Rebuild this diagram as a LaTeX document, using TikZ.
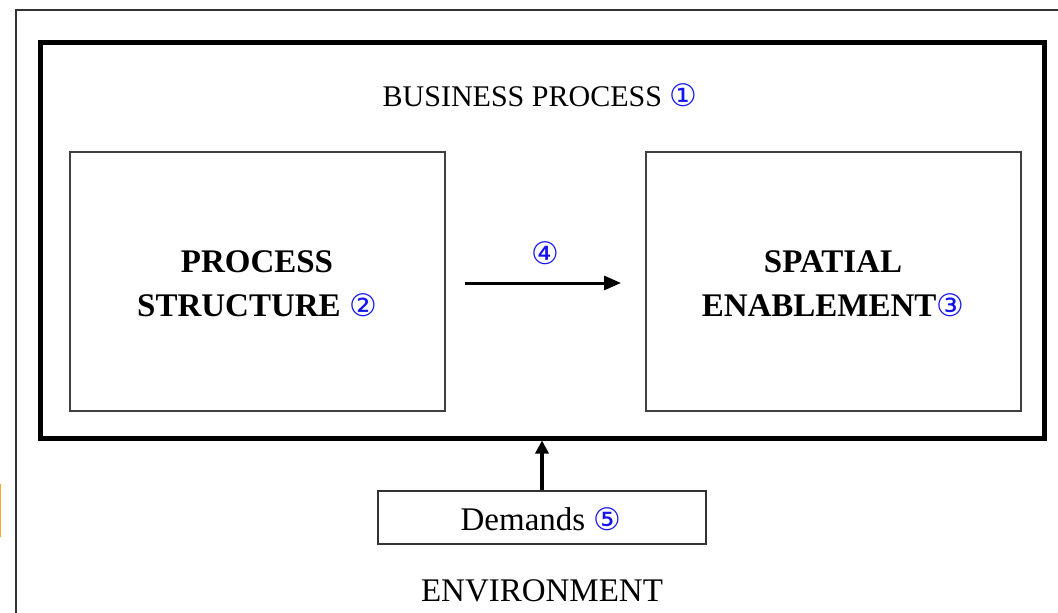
\documentclass[tikz,border=0pt]{standalone}
\usepackage{fontspec}
\setmainfont{Liberation Serif}
\newfontfamily\circfont{DejaVu Sans}
\usetikzlibrary{arrows.meta}
\definecolor{numblue}{RGB}{20,20,240}
\definecolor{markorange}{RGB}{245,166,35}
\newcommand{\cnum}[1]{{\mdseries\circfont\color{numblue}\fontsize{31}{31}\selectfont #1}}
\begin{document}
\begin{tikzpicture}[x=1pt,y=-1pt,
  thinframe/.style={draw=black!80,line width=1.6pt},
  thickframe/.style={draw=black,line width=5pt},
  innerbox/.style={draw=black!75,line width=1.6pt},
  demandbox/.style={draw=black!80,line width=1.4pt,minimum width=328pt,minimum height=53pt,inner sep=0pt},
  boldlabel/.style={font=\bfseries\fontsize{33}{44}\selectfont,align=center,inner sep=0pt},
  plainlabel/.style={font=\fontsize{30}{30}\selectfont,inner sep=0pt},
  flow/.style={line width=3pt,-{Triangle[length=17pt,width=14pt]}},
  demandflow/.style={line width=3.6pt,-{Triangle[length=13pt,width=13pt]}}]
\useasboundingbox (0,0) rectangle (1058,613);
% outer environment frame (open on right and bottom)
\draw[thinframe] (16,640) -- (16,10) -- (1080,10);
\draw[markorange,line width=1.2pt] (0.6,484) -- (0.6,537);
% business process frame
\draw[thickframe] (40.5,42) rectangle (1044,438);
\coordinate (bpbottom) at (542,440.5);
\node[plainlabel,anchor=base] (bp) at (540,106) {BUSINESS PROCESS \cnum{①}};
% inner boxes
\draw[innerbox] (70,152) rectangle (445,411);
\draw[innerbox] (646,152) rectangle (1021,411);
\node[boldlabel,anchor=base] (ps) at (257,272) {PROCESS};
\node[boldlabel,anchor=base] (ps2) at (257,316) {STRUCTURE \cnum{②}};
\node[boldlabel,anchor=base] (se) at (833,272) {SPATIAL};
\node[boldlabel,anchor=base] (se2) at (833,316) {ENABLEMENT\cnum{③}};
\coordinate (arrstart) at (465,283);
\coordinate (arrend) at (621,283);
\draw[flow] (arrstart) -- (arrend);
\node[inner sep=0pt,anchor=base] (n4) at (545,264) {\cnum{④}};
% demands
\node[demandbox] (dem) at (542,517.5) {};
\node[plainlabel,font=\fontsize{33}{33}\selectfont,anchor=base] (demtxt) at (541,530) {Demands \cnum{⑤}};
\draw[demandflow] (dem.north) -- (bpbottom);
\node[plainlabel,font=\fontsize{33}{33}\selectfont,anchor=base] (env) at (542,601) {ENVIRONMENT};
\end{tikzpicture}
\end{document}
